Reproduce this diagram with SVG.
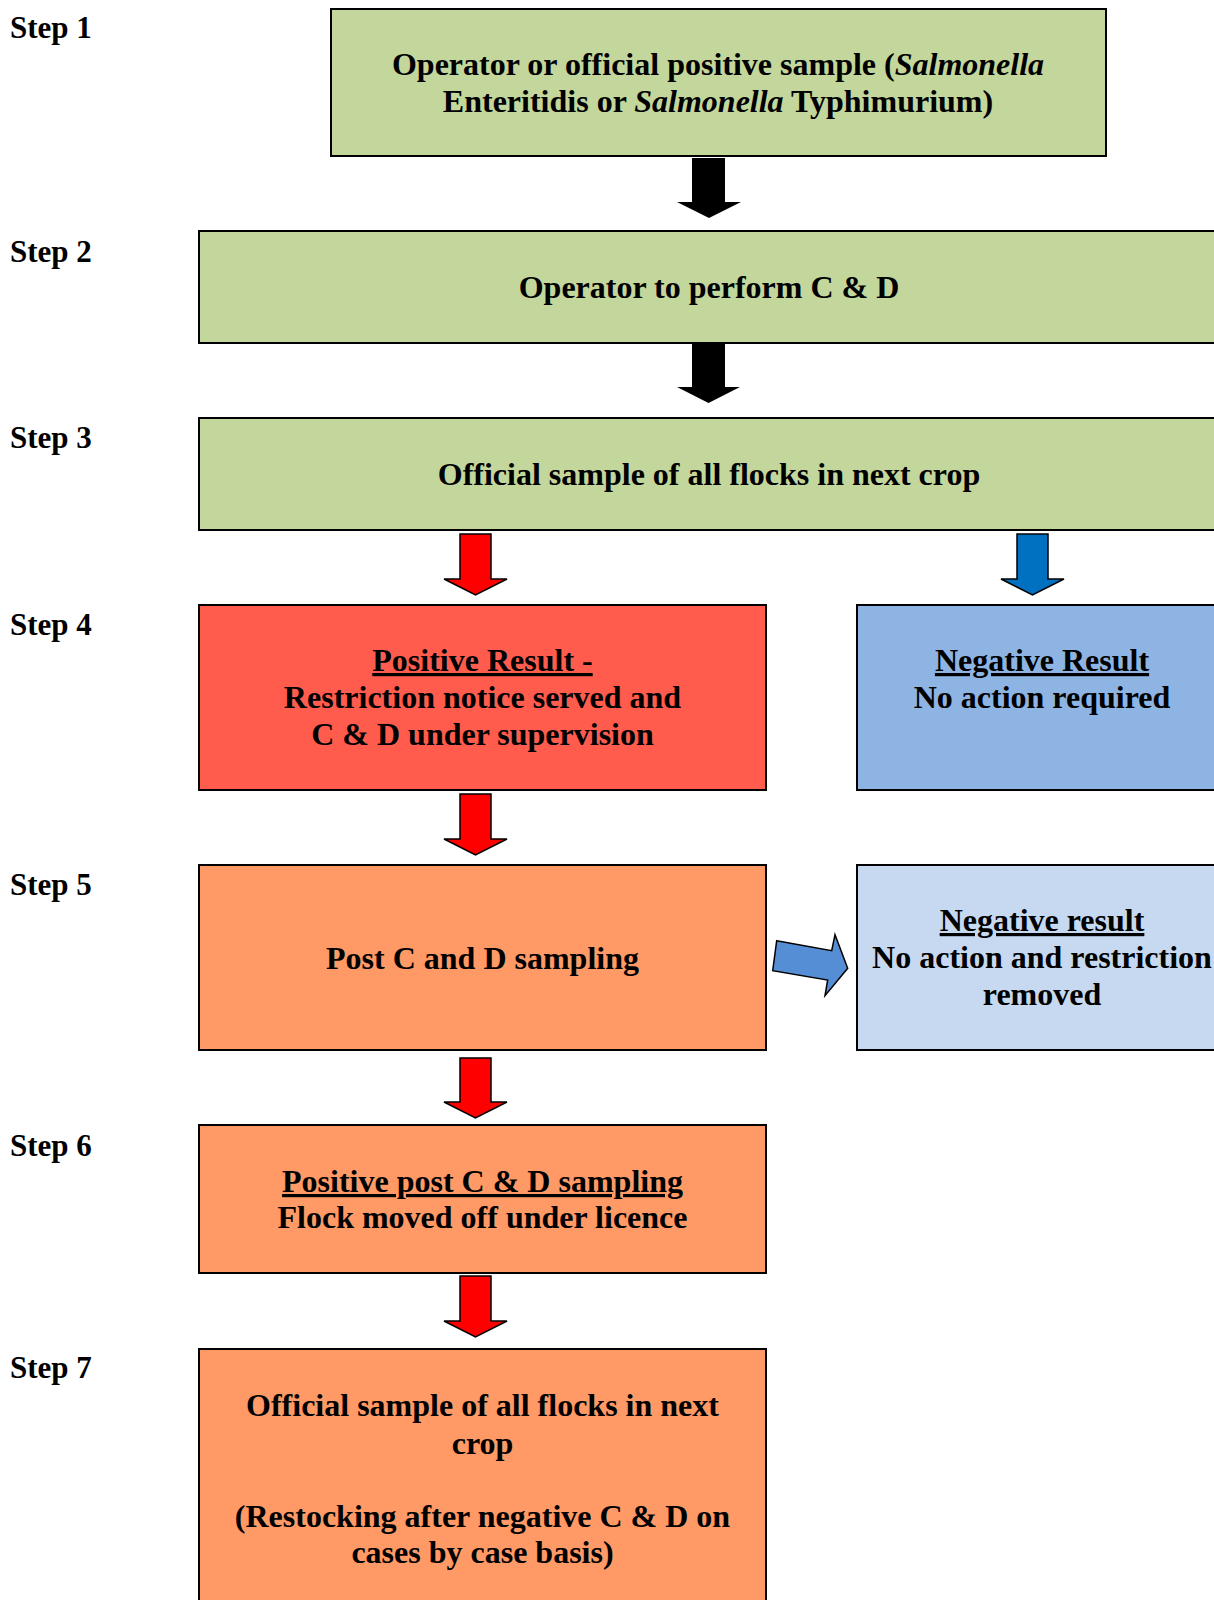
<svg xmlns="http://www.w3.org/2000/svg" width="1214" height="1600" viewBox="0 0 1214 1600">
<style>
text{font-family:"Liberation Serif","Times New Roman",serif;font-weight:bold;font-size:32px;fill:#000}
.s{font-size:31px}
.c{text-anchor:middle}
.u{text-decoration:underline}
.box{stroke:#000;stroke-width:2}
.green{fill:#C3D69B}
.red{fill:#FF5C4D}
.blue{fill:#8EB4E3}
.orange{fill:#FF9966}
.lblue{fill:#C6D9F1}
.ar{stroke:#000;stroke-width:1.5;stroke-linejoin:miter}
</style>
<rect width="1214" height="1600" fill="#fff"/>
<g id="steps">
<text class="s" x="10" y="38">Step 1</text>
<text class="s" x="10" y="262">Step 2</text>
<text class="s" x="10" y="448">Step 3</text>
<text class="s" x="10" y="635">Step 4</text>
<text class="s" x="10" y="895">Step 5</text>
<text class="s" x="10" y="1156">Step 6</text>
<text class="s" x="10" y="1378">Step 7</text>
</g>
<g id="node1">
<rect class="box green" x="331" y="9" width="775" height="147"/>
<text class="c" x="718" y="75">Operator or official positive sample (<tspan font-style="italic">Salmonella</tspan></text>
<text class="c" x="718" y="112">Enteritidis or <tspan font-style="italic">Salmonella</tspan> Typhimurium)</text>
</g>
<g id="node2">
<rect class="box green" x="199" y="231" width="1030" height="112"/>
<text class="c" x="709" y="298">Operator to perform C &amp; D</text>
</g>
<g id="node3">
<rect class="box green" x="199" y="418" width="1030" height="112"/>
<text class="c" x="709" y="485">Official sample of all flocks in next crop</text>
</g>
<g id="node4pos">
<rect class="box red" x="199" y="605" width="567" height="185"/>
<text class="c u" x="482.5" y="671">Positive Result -</text>
<text class="c" x="482.5" y="708">Restriction notice served and</text>
<text class="c" x="482.5" y="745">C &amp; D under supervision</text>
</g>
<g id="node4neg">
<rect class="box blue" x="857" y="605" width="370" height="185"/>
<text class="c u" x="1042" y="671">Negative Result</text>
<text class="c" x="1042" y="708">No action required</text>
</g>
<g id="node5">
<rect class="box orange" x="199" y="865" width="567" height="185"/>
<text class="c" x="482.5" y="969">Post C and D sampling</text>
</g>
<g id="node5neg">
<rect class="box lblue" x="857" y="865" width="370" height="185"/>
<text class="c u" x="1042" y="931">Negative result</text>
<text class="c" x="1042" y="968">No action and restriction</text>
<text class="c" x="1042" y="1005">removed</text>
</g>
<g id="node6">
<rect class="box orange" x="199" y="1125" width="567" height="148"/>
<text class="c u" x="482.5" y="1192">Positive post C &amp; D sampling</text>
<text class="c" x="482.5" y="1228">Flock moved off under licence</text>
</g>
<g id="node7">
<rect class="box orange" x="199" y="1349" width="567" height="270"/>
<text class="c" x="482.5" y="1416">Official sample of all flocks in next</text>
<text class="c" x="482.5" y="1454">crop</text>
<text class="c" x="482.5" y="1527">(Restocking after negative C &amp; D on</text>
<text class="c" x="482.5" y="1563">cases by case basis)</text>
</g>
<g id="connectors">
<path fill="#000" d="M692,158 H725 V202 H741 L709,218 L677,202 H692 Z"/>
<path fill="#000" d="M692,343 H725 V387 H740 L708.5,403 L677,387 H692 Z"/>
<path class="ar" fill="#FF0000" d="M460,534 H491 V579 H507 L475.5,595 L444,579 H460 Z"/>
<path class="ar" fill="#0070C0" d="M1017,534 H1048 V579 H1064 L1032.5,595 L1001,579 H1017 Z"/>
<path class="ar" fill="#FF0000" d="M460,794 H491 V839 H507 L475.5,855 L444,839 H460 Z"/>
<polygon class="ar" fill="#558ED5" points="776.7,940.7 831.7,950.7 835,934.7 847.7,968.3 825,995.7 827.7,980 772.7,970.7"/>
<path class="ar" fill="#FF0000" d="M460,1058 H491 V1102 H507 L475.5,1118 L444,1102 H460 Z"/>
<path class="ar" fill="#FF0000" d="M460,1276 H491 V1321 H507 L475.5,1337 L444,1321 H460 Z"/>
</g>
</svg>
